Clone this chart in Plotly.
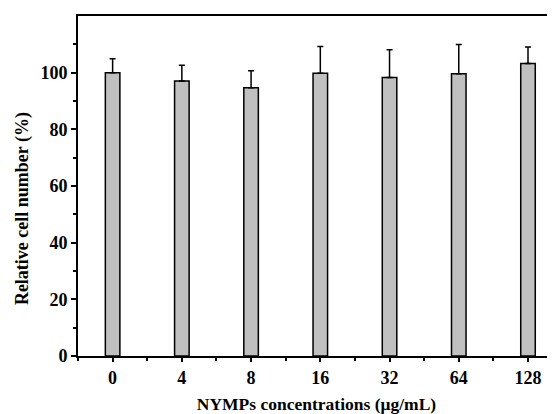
import plotly.graph_objects as go

categories = ["0", "4", "8", "16", "32", "64", "128"]
values = [100.0, 97.1, 94.7, 99.8, 98.3, 99.6, 103.2]
errors = [4.9, 5.5, 6.0, 9.4, 9.8, 10.3, 5.9]
y_ticks = [0, 20, 40, 60, 80, 100]

x_pos = list(range(len(categories)))
font = "Liberation Serif, Times New Roman, serif"

fig = go.Figure()
fig.add_trace(go.Bar(
    x=x_pos, y=values, width=0.21,
    marker=dict(color="#c0c0c0", line=dict(color="black", width=1.5)),
    error_y=dict(type="data", array=errors, arrayminus=[0] * len(errors),
                 symmetric=False, color="black", thickness=1.5, width=3),
))

# the page body adds an 8px offset, so the figure is sized to fit the window
fig.update_layout(
    width=547, height=406,
    margin=dict(l=70, r=0, t=8, b=58),
    plot_bgcolor="white", paper_bgcolor="white",
    showlegend=False,
    font=dict(family=font, size=17, color="black"),
    xaxis=dict(
        range=[-0.5, 6.39], tickmode="array", tickvals=x_pos,
        ticktext=[f"<b>{c}</b>" for c in categories],
        showline=True, linecolor="black", linewidth=2, mirror=True,
        ticks="outside", ticklen=4, tickwidth=1.5, tickcolor="black",
        showgrid=False, zeroline=False, automargin=False,
        tickfont=dict(family=font, size=18, color="black"),
        minor=dict(tickmode="array", tickvals=[i + 0.5 for i in range(-1, 7)],
                   ticks="outside", ticklen=3, tickwidth=1.5, tickcolor="black", showgrid=False),
        title=dict(text="<b>NYMPs concentrations (μg/mL)</b>", font=dict(family=font, size=17.5), standoff=22),
    ),
    yaxis=dict(
        range=[0, 120], tickmode="array", tickvals=y_ticks,
        ticktext=[f"<b>{v}</b>" for v in y_ticks],
        showline=True, linecolor="black", linewidth=2, mirror=False,
        ticks="outside", ticklen=5, tickwidth=1.5, tickcolor="black",
        showgrid=False, zeroline=False, automargin=False,
        tickfont=dict(family=font, size=18, color="black"),
        minor=dict(tickmode="array", tickvals=[10, 30, 50, 70, 90, 110],
                   ticks="outside", ticklen=3, tickwidth=1.5, tickcolor="black", showgrid=False),
    ),
    annotations=[dict(
        text="<b>Relative cell number (%)</b>", textangle=-90,
        xref="paper", yref="paper", x=0, y=0.432, xanchor="center", yanchor="middle",
        xshift=-56, showarrow=False, font=dict(family=font, size=18, color="black"),
    )],
)
fig.write_html("out.html")
